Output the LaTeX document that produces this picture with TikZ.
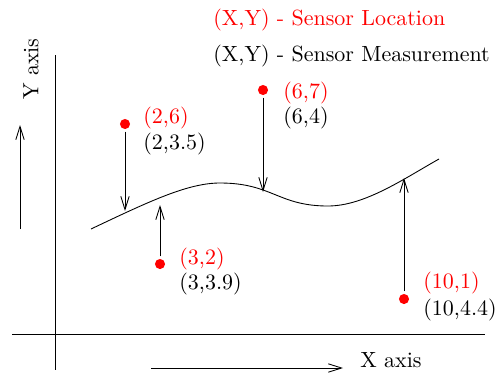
\documentclass[tikz,border=0pt]{standalone}
\usepackage{tikz}
\usetikzlibrary{arrows.meta,positioning}
\tikzset{
  sensordot/.style={circle, fill=red, inner sep=0pt, minimum size=4.6pt},
  loclabel/.style={anchor=west, inner sep=0pt, text=red},
  measlabel/.style={anchor=west, inner sep=0pt},
  axisarrow/.style={-{Straight Barb[length=6pt, width=3.8pt]}},
  measarrow/.style={-{Straight Barb[length=6pt, width=3.8pt]}, shorten <=1pt}
}

\begin{document}
\begin{tikzpicture}[x=0.455pt, y=-0.455pt]
    \useasboundingbox (0,0) rectangle (503,372);
    % axes
    \coordinate (yaxtop) at (55,55);
    \coordinate (yaxbot) at (55,370);
    \coordinate (xaxleft) at (12,334);
    \coordinate (xaxright) at (485,334);
    \draw (yaxtop) -- (yaxbot);
    \draw (xaxleft) -- (xaxright);
    \coordinate (yarrbot) at (20,229);
    \coordinate (yarrtop) at (20,125);
    \coordinate (xarrleft) at (151,368);
    \coordinate (xarrright) at (343,368);
    \draw[axisarrow] (yarrbot) -- (yarrtop);
    \draw[axisarrow] (xarrleft) -- (xarrright);
    \node[rotate=90, inner sep=0pt] (ylabel) at (31,69) {Y axis};
    \node[anchor=west, inner sep=0pt] (xlabel) at (360,360) {X axis};
    % legend
    \node[loclabel] (leglocation) at (213,20) {(X,Y) - Sensor Location};
    \node[measlabel] (legmeasure) at (213,56) {(X,Y) - Sensor Measurement};
    % measured curve
    \draw (91,229) .. controls (150,201) and (188,183) .. (220,183)
      .. controls (272,183) and (278,206) .. (328,206)
      .. controls (365,206) and (405,178) .. (439,159);
    \coordinate (curve1) at (125,211);
    \coordinate (curve2) at (263,192);
    \coordinate (curve3) at (160,205);
    \coordinate (curve4) at (404,178);
    % sensors
    \node[sensordot] (sensor1) at (125,124) {};
    \node[sensordot] (sensor2) at (263,90) {};
    \node[sensordot] (sensor3) at (160,264) {};
    \node[sensordot] (sensor4) at (404,299) {};
    \node[loclabel] (loc1) at (143,118) {(2,6)};
    \node[measlabel] (meas1) at (143,144) {(2,3.5)};
    \node[loclabel] (loc2) at (283,93) {(6,7)};
    \node[measlabel] (meas2) at (283,118) {(6,4)};
    \node[loclabel] (loc3) at (179,259) {(3,2)};
    \node[measlabel] (meas3) at (179,284) {(3,3.9)};
    \node[loclabel] (loc4) at (423,283) {(10,1)};
    \node[measlabel] (meas4) at (423,310) {(10,4.4)};
    \draw[measarrow] (sensor1) -- (curve1);
    \draw[measarrow] (sensor2) -- (curve2);
    \draw[measarrow] (sensor3) -- (curve3);
    \draw[measarrow] (sensor4) -- (curve4);
\end{tikzpicture}
\end{document}
